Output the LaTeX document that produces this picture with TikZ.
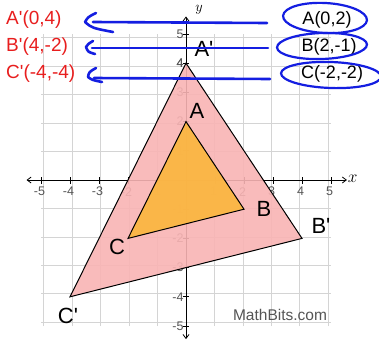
\documentclass[tikz,border=0pt]{standalone}
\usepackage{fontspec}
\setmainfont{Liberation Sans}[Ligatures=TeXOff]
\usetikzlibrary{arrows.meta}
\definecolor{gridgray}{RGB}{212,212,212}
\definecolor{tickgray}{RGB}{85,85,85}
\definecolor{pinkfill}{RGB}{249,180,180}
\definecolor{orangefill}{RGB}{251,182,64}
\definecolor{redtxt}{RGB}{232,30,30}
\definecolor{penblue}{RGB}{20,30,225}
\begin{document}
\begin{tikzpicture}[x=1pt,y=-1pt,
  ticklbl/.style={text=tickgray,font=\fontsize{12.5}{14}\selectfont,inner sep=0pt},
  vlbl/.style={font=\fontsize{22}{24}\selectfont,inner sep=0pt},
  redlbl/.style={text=redtxt,font=\fontsize{19}{21}\selectfont,inner sep=0pt},
  blklbl/.style={font=\fontsize{18}{20}\selectfont,inner sep=0pt},
  pen/.style={draw=penblue,line width=2.6pt,line cap=round,line join=round},
  ring/.style={draw=penblue,line width=2.2pt}]
\useasboundingbox (0,0) rectangle (379,340);
\fill[white] (0,0) rectangle (379,340);
\begin{scope}[shift={(186,180)},x=29pt,y=29.2pt]
  % grid
  \draw[gridgray,line width=0.8pt] (-5,-5) grid (5,5);
  % axes
  \draw[line width=0.8pt,{Straight Barb[length=4pt,width=6pt]}-{Straight Barb[length=4pt,width=6pt]}] (-5.5,0) -- (5.55,0);
  \draw[line width=0.8pt,{Straight Barb[length=4pt,width=6pt]}-{Straight Barb[length=4pt,width=6pt]}] (0,-5.45) -- (0,5.6);
  \foreach \i in {-5,-4,-3,-2,-1,1,2,3,4,5}{
    \draw[line width=0.8pt] (\i,-0.12) -- (\i,0.12);
    \draw[line width=0.8pt] (-0.12,\i) -- (0.12,\i);
    \node[ticklbl] (xt\i) at (\i-0.05,-0.4) {\i};
    \node[ticklbl,anchor=east] (yt\i) at (-0.08,\i) {\i};
  }
  \node[font=\fontsize{16}{18}\selectfont,inner sep=0pt] (xl) at (5.75,0.05) {$x$};
\end{scope}
\node[font=\fontsize{15}{17}\selectfont,inner sep=0pt,anchor=north] (yl) at (199,5) {$y$};
\begin{scope}[shift={(186,180)},x=29pt,y=29.2pt]
  % triangles
  \coordinate (Ap) at (0,4);
  \coordinate (Bp) at (4,-2);
  \coordinate (Cp) at (-4,-4);
  \coordinate (A) at (0,2);
  \coordinate (B) at (2,-1);
  \coordinate (C) at (-2,-2);
  \filldraw[fill=pinkfill,fill opacity=0.9,draw=black,line width=1pt,line join=miter] (Ap) -- (Bp) -- (Cp) -- cycle;
  \filldraw[fill=orangefill,fill opacity=0.93,draw=black,line width=1pt] (A) -- (B) -- (C) -- cycle;
  \node[ticklbl,anchor=east] (yt4b) at (-0.08,4) {4};
\end{scope}
% vertex labels
\node[vlbl] (lA) at (197,111) {A};
\node[vlbl] (lB) at (264,209) {B};
\node[vlbl] (lC) at (117,247) {C};
\node[vlbl] (lAp) at (204,49) {A'};
\node[vlbl] (lBp) at (321,226) {B'};
\node[vlbl] (lCp) at (68,316) {C'};
\node[text=tickgray,font=\fontsize{15.5}{17}\selectfont,inner sep=0pt] (mb) at (280,315) {MathBits.com};
% red labels
\node[redlbl,anchor=west] (rA) at (6,20) {A'(0,4)};
\node[redlbl,anchor=west] (rB) at (6,47) {B'(4,-2)};
\node[redlbl,anchor=west] (rC) at (6,74) {C'(-4,-4)};
% black labels
\node[blklbl] (kA) at (327,20) {A(0,2)};
\node[blklbl] (kB) at (329,47) {B(2,-1)};
\node[blklbl] (kC) at (332,74) {C(-2,-2)};
% blue ellipses
\draw[ring,rotate around={-3:(325,18)}] (325,18) ellipse [x radius=42,y radius=15];
\draw[ring,rotate around={2:(322,46)}] (322,46) ellipse [x radius=45,y radius=13];
\draw[ring,rotate around={-2:(331,75)}] (331,75) ellipse [x radius=50,y radius=13];
% blue arrows
\coordinate (sA) at (267,23); \coordinate (tA) at (85,22);
\coordinate (sB) at (268,48); \coordinate (tB) at (86,47);
\coordinate (sC) at (270,79); \coordinate (tC) at (88,77);
\draw[pen] (sA) -- (93,22);
\draw[pen] (96,13) .. controls (88,17) .. (tA) .. controls (92,28) .. (113,32);
\draw[pen] (sB) -- (92,48);
\draw[pen] (93,41) .. controls (88,44) .. (tB) .. controls (88,52) .. (95,54);
\draw[pen] (sC) -- (94,78);
\draw[pen] (96,68) .. controls (89,72) .. (tC) .. controls (92,80) .. (102,82);
\end{tikzpicture}
\end{document}
